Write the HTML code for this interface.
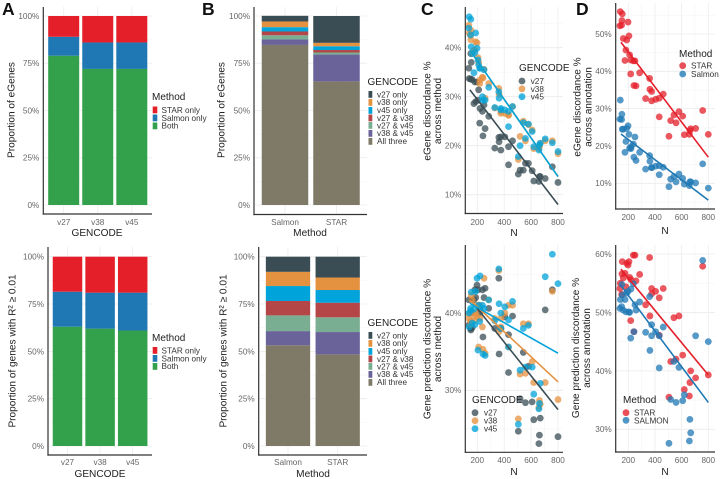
<!DOCTYPE html>
<html lang="en">
<head>
<meta charset="utf-8">
<title>Multi-panel GENCODE discordance figure</title>
<style>
html,body{margin:0;padding:0;background:#fff;}
svg{display:block;font-family:"Liberation Sans",sans-serif;}
.tick{font-size:8.2px;fill:#666;}
.ttl{font-size:10.1px;fill:#222;}
.lgt{font-size:10px;fill:#222;}
.lgl{font-size:8.2px;fill:#333;}
.ltr{font-size:17.5px;font-weight:bold;fill:#111;}
</style>
</head>
<body>
<svg id="figure" width="720" height="479" viewBox="0 0 720 479" xmlns="http://www.w3.org/2000/svg">
  <g id="layer-marks"></g>

  <g>
    <text class="ltr" x="2" y="15">A</text>
    <text class="ltr" x="202" y="15">B</text>
    <text class="ltr" x="421" y="15">C</text>
    <text class="ltr" x="576" y="15">D</text>
  </g>

  <g>
    <text class="ttl" transform="translate(14.5,110) rotate(-90)" text-anchor="middle">Proportion of eGenes</text>
    <text class="ttl" x="97" y="236" text-anchor="middle">GENCODE</text>
    <text class="ttl" transform="translate(15.5,351) rotate(-90)" text-anchor="middle">Proportion of genes with R² ≥ 0.01</text>
    <text class="ttl" x="100" y="477" text-anchor="middle">GENCODE</text>
    <text class="ttl" transform="translate(224.5,110) rotate(-90)" text-anchor="middle">Proportion of eGenes</text>
    <text class="ttl" x="310" y="236" text-anchor="middle">Method</text>
    <text class="ttl" transform="translate(226.5,351) rotate(-90)" text-anchor="middle">Proportion of genes with R² ≥ 0.01</text>
    <text class="ttl" x="313" y="477" text-anchor="middle">Method</text>
    <text class="ttl" transform="translate(430.5,111) rotate(-90)" text-anchor="middle">eGene discordance %</text>
    <text class="ttl" transform="translate(441,111) rotate(-90)" text-anchor="middle">across method</text>
    <text class="ttl" x="514" y="236" text-anchor="middle">N</text>
    <text class="ttl" transform="translate(430.5,349) rotate(-90)" text-anchor="middle">Gene prediction discordance %</text>
    <text class="ttl" transform="translate(441,349) rotate(-90)" text-anchor="middle">across method</text>
    <text class="ttl" x="514" y="475" text-anchor="middle">N</text>
    <text class="ttl" transform="translate(580.5,107) rotate(-90)" text-anchor="middle">eGene discordance %</text>
    <text class="ttl" transform="translate(591.5,107) rotate(-90)" text-anchor="middle">across annotation</text>
    <text class="ttl" x="665" y="234" text-anchor="middle">N</text>
    <text class="ttl" transform="translate(579,348) rotate(-90)" text-anchor="middle">Gene prediction discordance %</text>
    <text class="ttl" transform="translate(590,348) rotate(-90)" text-anchor="middle">across annotation</text>
    <text class="ttl" x="665" y="475" text-anchor="middle">N</text>
  </g>

  <g>
    <text class="lgt" x="152" y="100">Method</text>
    <g><rect x="152.7" y="106.5" width="4.6" height="6.8" fill="#e41f2a"/><text class="lgl" x="161.5" y="113">STAR only</text></g>
    <g><rect x="152.7" y="114.5" width="4.6" height="6.8" fill="#1f78b4"/><text class="lgl" x="161.5" y="121">Salmon only</text></g>
    <g><rect x="152.7" y="122.5" width="4.6" height="6.8" fill="#33a04b"/><text class="lgl" x="161.5" y="128.5">Both</text></g>
  </g>
  <g>
    <text class="lgt" x="152" y="341">Method</text>
    <g><rect x="152.7" y="347" width="4.6" height="6.8" fill="#e41f2a"/><text class="lgl" x="161.5" y="353.5">STAR only</text></g>
    <g><rect x="152.7" y="355" width="4.6" height="6.8" fill="#1f78b4"/><text class="lgl" x="161.5" y="361.5">Salmon only</text></g>
    <g><rect x="152.7" y="363" width="4.6" height="6.8" fill="#33a04b"/><text class="lgl" x="161.5" y="369">Both</text></g>
  </g>

  <g>
    <text class="lgt" x="367.5" y="85">GENCODE</text>
    <g><rect x="368.5" y="91" width="3.8" height="6.8" fill="#3a4d55"/><text class="lgl" x="377" y="97.5">v27 only</text></g>
    <g><rect x="368.5" y="99" width="3.8" height="6.8" fill="#e59240"/><text class="lgl" x="377" y="105">v38 only</text></g>
    <g><rect x="368.5" y="107" width="3.8" height="6.8" fill="#00a3da"/><text class="lgl" x="377" y="113">v45 only</text></g>
    <g><rect x="368.5" y="114.5" width="3.8" height="6.8" fill="#b54648"/><text class="lgl" x="377" y="121">v27 &amp; v38</text></g>
    <g><rect x="368.5" y="122" width="3.8" height="6.8" fill="#79ae93"/><text class="lgl" x="377" y="128.5">v27 &amp; v45</text></g>
    <g><rect x="368.5" y="130" width="3.8" height="6.8" fill="#6a6399"/><text class="lgl" x="377" y="136">v38 &amp; v45</text></g>
    <g><rect x="368.5" y="138" width="3.8" height="6.8" fill="#7f7a68"/><text class="lgl" x="377" y="144">All three</text></g>
  </g>
  <g>
    <text class="lgt" x="367.5" y="326">GENCODE</text>
    <g><rect x="368.5" y="332" width="3.8" height="6.8" fill="#3a4d55"/><text class="lgl" x="377" y="338.5">v27 only</text></g>
    <g><rect x="368.5" y="340" width="3.8" height="6.8" fill="#e59240"/><text class="lgl" x="377" y="346">v38 only</text></g>
    <g><rect x="368.5" y="348" width="3.8" height="6.8" fill="#00a3da"/><text class="lgl" x="377" y="354">v45 only</text></g>
    <g><rect x="368.5" y="355.5" width="3.8" height="6.8" fill="#b54648"/><text class="lgl" x="377" y="362">v27 &amp; v38</text></g>
    <g><rect x="368.5" y="363" width="3.8" height="6.8" fill="#79ae93"/><text class="lgl" x="377" y="369.5">v27 &amp; v45</text></g>
    <g><rect x="368.5" y="371" width="3.8" height="6.8" fill="#6a6399"/><text class="lgl" x="377" y="377">v38 &amp; v45</text></g>
    <g><rect x="368.5" y="379" width="3.8" height="6.8" fill="#7f7a68"/><text class="lgl" x="377" y="385">All three</text></g>
  </g>

  <g>
    <text class="lgt" x="519" y="71">GENCODE</text>
    <g><circle cx="522" cy="81" r="3.4" fill="#3a4d55" fill-opacity=".78"/><text class="lgl" x="530.7" y="84">v27</text></g>
    <g><circle cx="522" cy="88.8" r="3.4" fill="#e59240" fill-opacity=".78"/><text class="lgl" x="530.7" y="91.8">v38</text></g>
    <g><circle cx="522" cy="96.7" r="3.4" fill="#00a3da" fill-opacity=".78"/><text class="lgl" x="530.7" y="99.7">v45</text></g>
  </g>
  <g>
    <text class="lgt" x="472" y="403">GENCODE</text>
    <g><circle cx="475" cy="412.7" r="3.4" fill="#3a4d55" fill-opacity=".78"/><text class="lgl" x="484" y="415.7">v27</text></g>
    <g><circle cx="475" cy="420.7" r="3.4" fill="#e59240" fill-opacity=".78"/><text class="lgl" x="484" y="423.7">v38</text></g>
    <g><circle cx="475" cy="428.7" r="3.4" fill="#00a3da" fill-opacity=".78"/><text class="lgl" x="484" y="431.7">v45</text></g>
  </g>
  <g>
    <text class="lgt" x="679" y="57">Method</text>
    <g><circle cx="682.7" cy="65.7" r="3.4" fill="#e41f2a" fill-opacity=".78"/><text class="lgl" x="691" y="68.7">STAR</text></g>
    <g><circle cx="682.7" cy="74" r="3.4" fill="#1f78b4" fill-opacity=".78"/><text class="lgl" x="691" y="77">Salmon</text></g>
  </g>
  <g>
    <text class="lgt" x="623" y="403">Method</text>
    <g><circle cx="626" cy="412.7" r="3.4" fill="#e41f2a" fill-opacity=".78"/><text class="lgl" x="634" y="415.7">STAR</text></g>
    <g><circle cx="626" cy="420.3" r="3.4" fill="#1f78b4" fill-opacity=".78"/><text class="lgl" x="634" y="423.3">SALMON</text></g>
  </g>
</svg>

<script>
// ---------- Stacked bar data (percent of each bar, bottom to top) ----------
const gencodeCategories = ['v27', 'v38', 'v45'];
const methodCategories = ['Salmon', 'STAR'];
const percentTicks = [0, 25, 50, 75, 100];

const aTopBoth = [79, 72, 72];
const aTopSalmonOnly = [10, 14, 14];
const aTopStarOnly = [11, 14, 14];

const aBottomBoth = [63, 62, 61];
const aBottomSalmonOnly = [18.5, 19, 20];
const aBottomStarOnly = [18.5, 19, 19];

const bTopAllThree = [84.7, 65.4];
const bTopV38V45 = [2.9, 14.2];
const bTopV27V45 = [2.2, 1.1];
const bTopV27V38 = [2, 1.3];
const bTopV45Only = [2.3, 2];
const bTopV38Only = [3, 1.8];
const bTopV27Only = [3, 14.2];

const bBottomAllThree = [53.2, 48.4];
const bBottomV38V45 = [7.5, 11.8];
const bBottomV27V45 = [8.3, 7.8];
const bBottomV27V38 = [7.6, 7.7];
const bBottomV45Only = [7.9, 6.7];
const bBottomV38Only = [7.5, 6.6];
const bBottomV27Only = [8, 11];

// ---------- Scatter data: sample size N per tissue, shared by all series ----------
const sampleN = [137,140,150,152,155,162,175,182,188,198,205,210,218,220,238,242,250,258,285,330,360,362,375,375,405,432,432,462,505,518,542,558,580,608,620,658,662,668,705,758,800];
const nTicks = [200, 400, 600, 800];
const trendN = [145, 800];

const cTopTicks = [10, 20, 30, 40];
const cTopV27 = [35.8,33.7,33.6,38.8,37,33.5,28.6,33,29,33,29.3,31.4,24.6,27.6,27,22,28.3,23.5,26,19.5,21.7,20.8,21.8,19.1,21.8,19.8,16.1,21,14.2,15,15,16.4,16.4,14.9,12.8,12.7,13.7,13.7,13.3,15.7,12.5];
const cTopV38 = [44.6,43,42.5,41.6,43.5,39,39.5,39.5,41.2,41,38,37,32.7,33.4,34,33.8,35.6,29.7,32.7,27.7,31.7,30.5,27,26.6,26.6,26.2,26.3,28,17.2,21.9,25,21,24.3,23.2,19.4,19.4,19.8,20.5,21,21,18.4];
const cTopV45 = [44,46.3,42.6,45.8,40.2,38.8,34.9,39,43,39.9,37.5,36.5,35.8,35.8,30,29.3,35.5,29.3,31.9,27.8,31,29.7,27.6,27.3,27.3,23.9,27,28,17.8,20,24.7,21.5,24.4,22.9,19.8,19.1,20.2,20.5,21.4,20.6,18.8];
const cTopTrendV27 = [31.4, 8];
const cTopTrendV38 = [39.5, 13.7];
const cTopTrendV45 = [39.5, 13.7];

const cBottomTicks = [30, 40];
const cBottomV27 = [41.7,38.5,38,37.8,40,38.1,41.7,43,42,43.6,43,41,40,40.5,43,36.9,42,43.2,40.6,38,44.5,34.7,38,38,39.5,37.2,32.3,39.6,24.7,28.9,34.9,28.4,33.1,28.5,26.2,23.1,24.2,26.4,40.4,43,24];
const cBottomV38 = [39.3,39.9,38.5,39,42.3,41.7,39,39.7,40,39.5,41,35.6,41,39.3,38.2,35.3,44.5,34.8,41.7,39.3,45.5,37.6,39.3,38.2,40,35.6,41,41,26.3,32.1,38.6,32.2,38.6,33.7,31,27.8,28.7,28.2,31,42.8,28.8];
const cBottomV45 = [40,38.2,40.6,40.3,42.7,38.7,40.5,38.5,42.8,44.5,35.2,41,38.9,44.8,41,34.7,40.6,34.5,41.7,39,45.7,41.2,38,40,40.8,35.6,39.1,41.5,25.6,32.6,38,33,38.4,33,29.5,27.6,28.3,30.9,44.7,47.6,43.8];
const cBottomTrendV27 = [41.8, 27.5];
const cBottomTrendV38 = [41.7, 31.1];
const cBottomTrendV45 = [41.25, 34.8];

const dTopTicks = [10, 20, 30, 40, 50];
const dTopStar = [52.2,56,52.4,53.6,55.4,48.8,42.9,45.7,48.4,53.2,49.5,44.4,39.3,43,42.8,36.2,42.8,36.1,39.6,32.7,38.1,35.2,34.6,32.1,32.5,32.8,27.8,33.9,22.6,26.8,28.3,26.2,29.2,28,23,23.1,24.1,24.6,24.7,29.5,23.1];
const dTopSalmon = [27.2,32.3,27.1,28.5,24.5,24.5,18.3,21.2,24.7,25.4,23.1,19.4,19.8,19.3,20.5,17,22.4,16.1,18.3,13.8,17.4,15.9,14.2,14.2,14.6,14.7,12.3,14.3,9.1,11.1,11.8,10.4,12.5,11.3,9.8,9.4,10.4,10.4,10.1,15.2,8.7];
const dTopTrendStar = [47.8, 17];
const dTopTrendSalmon = [23.2, 5.5];

const dBottomTicks = [30, 40, 50, 60];
const dBottomStar = [54.1,55,53.1,56.6,58.7,55.9,56.7,54.4,58.4,58.1,58.7,56,48.6,55.6,59.8,46.7,59.8,55.4,56.5,51.3,59.4,49.4,54.1,53.2,53.6,52.5,46.1,54.1,35.5,41.6,49.1,42,49.4,42.7,36.8,35.7,38,40,38.8,57.9,39.3];
const dBottomSalmon = [50.7,52.2,51,54.8,53,50.4,52.2,50.1,53.3,53.6,50.1,50,45.6,54,54.9,46.7,51.3,50.4,51.8,46.6,52.7,43.5,47.9,46,46.7,46,40.5,47.5,27.6,35.1,41.6,34.6,40.6,34.9,35.9,28,31.7,29.4,46,58.9,45];
const dBottomTrendStar = [57.4, 39.3];
const dBottomTrendSalmon = [54.6, 34.6];

// ---------- Colours ----------
const COL = {star:'#e41f2a', salmon:'#1f78b4', both:'#33a04b', v27:'#3a4d55', v38:'#e59240', v45:'#00a3da',
  v27v38:'#b54648', v27v45:'#79ae93', v38v45:'#6a6399', all:'#7f7a68'};

const NS = 'http://www.w3.org/2000/svg';
const root = document.getElementById('layer-marks');

function make(tag, parent, attrs) {
  const el = document.createElementNS(NS, tag);
  for (const k in attrs) el.setAttribute(k, attrs[k]);
  parent.appendChild(el);
  return el;
}

function drawGridLine(g, x1, y1, x2, y2, minor) {
  const el = make('line', g, {x1, y1, x2, y2, stroke: minor ? '#f5f5f5' : '#ececec', 'stroke-width': minor ? 0.6 : 0.8});
  
  
}

function drawAxes(g, box) {
  const yAxis = make('line', g, {x1: box.left, y1: box.top, x2: box.left, y2: box.bottom + 0.6, stroke: '#333', 'stroke-width': 1.2});
  
  
  const xAxis = make('line', g, {x1: box.left - 0.6, y1: box.bottom, x2: box.right, y2: box.bottom, stroke: '#333', 'stroke-width': 1.2});
  
  
}

function drawStacked(name, box, categories, series) {
  const g = make('g', root, {});
  
  
  const yScale = p => box.y0 + (box.y100 - box.y0) * p / 100;
  const xCenter = i => box.firstCenter + i * box.step;

  percentTicks.forEach((t, i) => {
    drawGridLine(g, box.left, yScale(t), box.right, yScale(t), false);
    if (i < percentTicks.length - 1) {
      const m = (t + percentTicks[i + 1]) / 2;
      drawGridLine(g, box.left, yScale(m), box.right, yScale(m), true);
    }
  });
  categories.forEach((c, i) => drawGridLine(g, xCenter(i), box.top, xCenter(i), box.bottom, false));

  categories.forEach((c, i) => {
    let acc = 0;
    series.forEach(s => {
      const v = s.values[i];
      const bar = make('rect', g, {x: xCenter(i) - box.barWidth / 2, y: yScale(acc + v), width: box.barWidth, height: yScale(acc) - yScale(acc + v), fill: s.color});
      
      
      acc += v;
    });
  });

  drawAxes(g, box);

  percentTicks.forEach(t => {
    const lab = make('text', g, {x: box.left - 4, y: yScale(t) + 2.9, 'text-anchor': 'end', class: 'tick'});
    lab.textContent = t + '%';
    
    
  });
  categories.forEach((c, i) => {
    const lab = make('text', g, {x: xCenter(i), y: box.tickY, 'text-anchor': 'middle', class: 'tick'});
    lab.textContent = c;
    
    
  });
}

function drawScatter(name, box, yTicks, series, trends) {
  const g = make('g', root, {});
  
  
  const xScale = n => box.x200 + (n - 200) * (box.x800 - box.x200) / 600;
  const yScale = v => box.yA + (v - box.vA) * (box.yB - box.yA) / (box.vB - box.vA);

  nTicks.forEach((t, i) => {
    drawGridLine(g, xScale(t), box.top, xScale(t), box.bottom, false);
    if (i < nTicks.length - 1) {
      const m = (t + nTicks[i + 1]) / 2;
      drawGridLine(g, xScale(m), box.top, xScale(m), box.bottom, true);
    }
  });
  const yStep = yTicks[1] - yTicks[0];
  for (let t = yTicks[0] - yStep / 2; t <= yTicks[yTicks.length - 1] + yStep; t += yStep / 2) {
    const py = yScale(t);
    if (py > box.top && py < box.bottom) {
      drawGridLine(g, box.left, py, box.right, py, yTicks.indexOf(t) < 0);
    }
  }

  series.forEach(s => {
    s.values.forEach((v, i) => {
      const pt = make('circle', g, {cx: xScale(sampleN[i]), cy: yScale(v), r: 3.4, fill: s.color, 'fill-opacity': 0.75});
      
      
    });
  });

  trends.forEach(t => {
    const ln = make('line', g, {x1: xScale(trendN[0]), y1: yScale(t.values[0]), x2: xScale(trendN[1]), y2: yScale(t.values[1]), stroke: t.color, 'stroke-width': 1.6});
    
    
  });

  drawAxes(g, box);

  yTicks.forEach(t => {
    const lab = make('text', g, {x: box.left - 4, y: yScale(t) + 2.9, 'text-anchor': 'end', class: 'tick'});
    lab.textContent = t + '%';
    
    
  });
  nTicks.forEach(t => {
    const lab = make('text', g, {x: xScale(t), y: box.tickY, 'text-anchor': 'middle', class: 'tick'});
    lab.textContent = t;
    
    
  });
}

drawStacked('panel-a-top-stacked-bars',
  {left: 43.3, right: 152, top: 7, bottom: 214, y0: 205, y100: 16, firstCenter: 63.7, step: 34.05, barWidth: 31, tickY: 225},
  gencodeCategories,
  [{values: aTopBoth, color: COL.both}, {values: aTopSalmonOnly, color: COL.salmon}, {values: aTopStarOnly, color: COL.star}]);

drawStacked('panel-a-bottom-stacked-bars',
  {left: 48, right: 152, top: 247, bottom: 455, y0: 446, y100: 256.7, firstCenter: 67.5, step: 32.6, barWidth: 29.5, tickY: 465},
  gencodeCategories,
  [{values: aBottomBoth, color: COL.both}, {values: aBottomSalmonOnly, color: COL.salmon}, {values: aBottomStarOnly, color: COL.star}]);

drawStacked('panel-b-top-stacked-bars',
  {left: 254, right: 367, top: 7, bottom: 214.5, y0: 205, y100: 16, firstCenter: 285, step: 51.5, barWidth: 46.5, tickY: 225},
  methodCategories,
  [{values: bTopAllThree, color: COL.all}, {values: bTopV38V45, color: COL.v38v45}, {values: bTopV27V45, color: COL.v27v45},
   {values: bTopV27V38, color: COL.v27v38}, {values: bTopV45Only, color: COL.v45}, {values: bTopV38Only, color: COL.v38}, {values: bTopV27Only, color: COL.v27}]);

drawStacked('panel-b-bottom-stacked-bars',
  {left: 258.7, right: 367, top: 247, bottom: 455, y0: 446, y100: 256.7, firstCenter: 288, step: 49.7, barWidth: 44.3, tickY: 465},
  methodCategories,
  [{values: bBottomAllThree, color: COL.all}, {values: bBottomV38V45, color: COL.v38v45}, {values: bBottomV27V45, color: COL.v27v45},
   {values: bBottomV27V38, color: COL.v27v38}, {values: bBottomV45Only, color: COL.v45}, {values: bBottomV38Only, color: COL.v38}, {values: bBottomV27Only, color: COL.v27}]);

drawScatter('panel-c-top-scatter',
  {left: 465.3, right: 563, top: 7, bottom: 213.5, x200: 477.3, x800: 558, vA: 40, yA: 47.7, vB: 10, yB: 194.7, tickY: 225},
  cTopTicks,
  [{values: cTopV27, color: COL.v27}, {values: cTopV38, color: COL.v38}, {values: cTopV45, color: COL.v45}],
  [{values: cTopTrendV38, color: COL.v38}, {values: cTopTrendV27, color: COL.v27}, {values: cTopTrendV45, color: COL.v45}]);

drawScatter('panel-c-bottom-scatter',
  {left: 465.3, right: 563, top: 245, bottom: 452.3, x200: 477.3, x800: 558, vA: 40, yA: 313, vB: 30, yB: 390.3, tickY: 463},
  cBottomTicks,
  [{values: cBottomV27, color: COL.v27}, {values: cBottomV38, color: COL.v38}, {values: cBottomV45, color: COL.v45}],
  [{values: cBottomTrendV27, color: COL.v27}, {values: cBottomTrendV38, color: COL.v38}, {values: cBottomTrendV45, color: COL.v45}]);

drawScatter('panel-d-top-scatter',
  {left: 615.7, right: 715, top: 3, bottom: 209, x200: 628.3, x800: 708.3, vA: 50, yA: 34, vB: 10, yB: 183.3, tickY: 220},
  dTopTicks,
  [{values: dTopStar, color: COL.star}, {values: dTopSalmon, color: COL.salmon}],
  [{values: dTopTrendStar, color: COL.star}, {values: dTopTrendSalmon, color: COL.salmon}]);

drawScatter('panel-d-bottom-scatter',
  {left: 615.7, right: 715, top: 245, bottom: 452, x200: 628.3, x800: 708.3, vA: 60, yA: 254, vB: 30, yB: 429.3, tickY: 463},
  dBottomTicks,
  [{values: dBottomStar, color: COL.star}, {values: dBottomSalmon, color: COL.salmon}],
  [{values: dBottomTrendStar, color: COL.star}, {values: dBottomTrendSalmon, color: COL.salmon}]);
</script>
</body>
</html>
